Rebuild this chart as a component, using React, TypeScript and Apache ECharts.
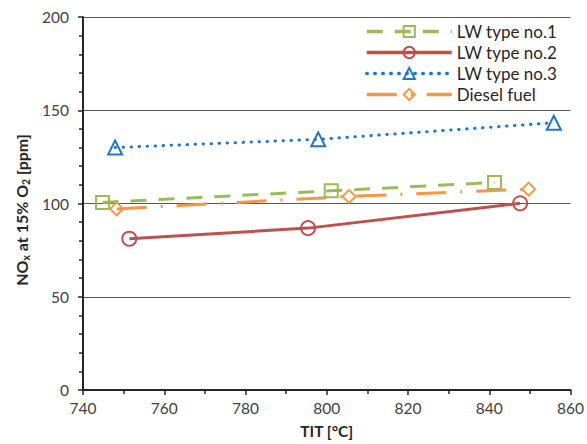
import React, { useEffect, useRef } from "react";
import * as echarts from "echarts";

const seriesNames = ["LW type no.1", "LW type no.2", "LW type no.3", "Diesel fuel"];
const lw1: number[][] = [[744.8, 100.6], [801.1, 106.8], [841.3, 111.3]];
const lw2: number[][] = [[751.4, 81.1], [795.4, 86.8], [847.6, 100.1]];
const lw3: number[][] = [[747.9, 130.0], [797.9, 134.4], [855.9, 143.3]];
const diesel: number[][] = [[748.3, 97.1], [805.5, 103.8], [849.7, 107.7]];
const xTicks = [740, 760, 780, 800, 820, 840, 860];
const yTicks = [0, 50, 100, 150, 200];

const FONT = "Lato, 'Open Sans', 'Liberation Sans', sans-serif";

export default function App() {
  const ref = useRef<HTMLDivElement>(null);
  useEffect(() => {
    if (!ref.current) return;
    const chart = echarts.init(ref.current, undefined, { renderer: "svg" });
    const mk = (
      name: string,
      data: number[][],
      color: string,
      symbol: string,
      size: number,
      type: any,
      cap: any
    ) => ({
      name,
      type: "line",
      data,
      symbol,
      symbolSize: size,
      showSymbol: true,
      lineStyle: { color, width: 3, type, cap },
      itemStyle: { color: "rgba(255,255,255,0)", borderColor: color, borderWidth: 2 },
      z: 3,
    });
    chart.setOption({
      animation: false,
      backgroundColor: "#fff",
      grid: { left: 83, right: 16, top: 17, bottom: 52 },
      legend: {
        orient: "vertical",
        left: 360,
        top: 19,
        padding: [2, 8, 2, 5],
        backgroundColor: "#fff",
        itemWidth: 85,
        itemHeight: 14,
        itemGap: 0,
        lineStyle: { width: 3.5 },
        textStyle: { fontFamily: FONT, fontSize: 17, lineHeight: 21, color: "#262626" },
        data: seriesNames,
      },
      xAxis: {
        type: "value",
        min: xTicks[0],
        max: xTicks[xTicks.length - 1],
        interval: 20,
        axisLine: { show: true, lineStyle: { color: "#262626", width: 2 } },
        axisTick: { show: true, length: 5, lineStyle: { color: "#262626", width: 1.5 } },
        minorTick: { show: true, splitNumber: 2, length: 4, lineStyle: { color: "#262626", width: 1.5 } },
        splitLine: { show: false },
        axisLabel: { fontFamily: FONT, fontSize: 15.5, color: "#404040", margin: 10 },
        name: "TIT [°C]",
        nameLocation: "middle",
        nameGap: 33,
        nameTextStyle: { fontFamily: FONT, fontSize: 15.5, fontWeight: "bold", color: "#262626" },
      },
      yAxis: {
        type: "value",
        min: yTicks[0],
        max: yTicks[yTicks.length - 1],
        interval: 50,
        axisLine: { show: true, lineStyle: { color: "#262626", width: 2 } },
        axisTick: { show: true, length: 5, lineStyle: { color: "#262626", width: 1.5 } },
        minorTick: { show: true, splitNumber: 5, length: 4, lineStyle: { color: "#262626", width: 1.5 } },
        splitLine: { show: true, lineStyle: { color: "#595959", width: 1.2 } },
        axisLabel: { fontFamily: FONT, fontSize: 15.5, color: "#404040", margin: 14 },
      },
      graphic: [
        {
          type: "text",
          x: 21,
          y: 210,
          rotation: Math.PI / 2,
          style: {
            text: "{n|NO}{s|x}{n| at 15% O}{s|2}{n| [ppm]}",
            align: "center",
            verticalAlign: "middle",
            fill: "#262626",
            rich: {
              n: { fontFamily: FONT, fontSize: 16, fontWeight: "bold", lineHeight: 20, fill: "#262626" },
              s: { fontFamily: FONT, fontSize: 10.5, fontWeight: "bold", lineHeight: 12, verticalAlign: "bottom", fill: "#262626" },
            },
          },
        },
      ],
      series: [
        mk(seriesNames[0], lw1, "#9BBB59", "rect", 13, [16, 12], "butt"),
        mk(seriesNames[1], lw2, "#C0504D", "circle", 14, "solid", "butt"),
        mk(seriesNames[2], lw3, "#1F78C1", "triangle", 14, [0.5, 7.5], "round"),
        mk(seriesNames[3], diesel, "#F79646", "diamond", 13, [30, 14, 2, 14], "butt"),
      ],
    });
    return () => chart.dispose();
  }, []);
  return (
    <div
      ref={ref}
      style={{ position: "absolute", left: 0, top: 0, width: 587, height: 444 }}
    />
  );
}
